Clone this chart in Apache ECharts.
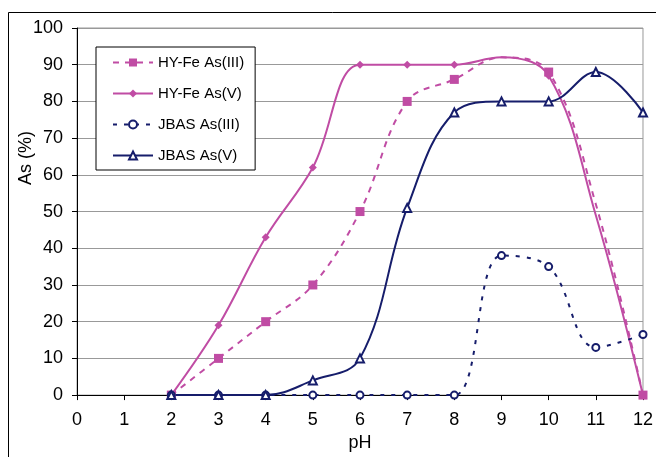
<!DOCTYPE html>
<html>
<head>
<meta charset="utf-8">
<script src="https://cdn.jsdelivr.net/npm/echarts@6/dist/echarts.min.js"></script>
<style>
html,body{margin:0;padding:0;background:#fff;}
#chart{width:656px;height:457px;}
</style>
</head>
<body>
<div id="chart"></div>
<script>
// ---- data ----
const pH = [2, 3, 4, 5, 6, 7, 8, 9, 10, 11, 12];
const hyFeAsIII = [0, 10, 20, 30, 50, 80, 86, 92, 88, 52, 0];
const hyFeAsV   = [0, 19, 43, 62, 90, 90, 90, 92, 87, 49, 0];
const jbasAsIII = [0, 0, 0, 0, 0, 0, 0, 38, 35, 13, 16.5];
const jbasAsV   = [0, 0, 0, 4, 10, 51, 77, 80, 80, 88, 77];
const seriesNames = ['HY-Fe As(III)', 'HY-Fe As(V)', 'JBAS As(III)', 'JBAS As(V)'];
const xTicks = [0,1,2,3,4,5,6,7,8,9,10,11,12];
const yTicks = [0,10,20,30,40,50,60,70,80,90,100];
// points whose markers are not shown in the reference
const hiddenMarkersHY = [9, 11];

const PINK = '#c04ca4';
const NAVY = '#161d6b';
const FONT = '"Liberation Sans", Arial, sans-serif';
const SMOOTH = 0.38;

function build(vals, hidden) {
  return pH.map((x, i) => {
    const d = { value: [x, vals[i]] };
    if (hidden && hidden.indexOf(x) > -1) d.symbol = 'none';
    return d;
  });
}

const chart = echarts.init(document.getElementById('chart'), null, {renderer: 'canvas'});
chart.setOption({
  animation: false,
  backgroundColor: '#fff',
  textStyle: { fontFamily: FONT },
  grid: { left: 77, right: 8, top: 28, bottom: 53, show: true, borderColor: '#999', borderWidth: 1 },
  xAxis: {
    type: 'value', min: xTicks[0], max: xTicks[xTicks.length-1], interval: 1,
    name: 'pH', nameLocation: 'middle', nameGap: 35,
    nameTextStyle: { fontSize: 18, color: '#000', fontFamily: FONT },
    axisLine: { show: true, onZero: false, lineStyle: { color: '#000', width: 1 } },
    axisTick: { show: true, length: 5, lineStyle: { color: '#000' } },
    axisLabel: { fontSize: 18, color: '#000', margin: 16, fontFamily: FONT },
    splitLine: { show: false }
  },
  yAxis: {
    type: 'value', min: yTicks[0], max: yTicks[yTicks.length-1], interval: 10,
    axisLine: { show: true, lineStyle: { color: '#000', width: 1 } },
    axisTick: { show: true, length: 5, lineStyle: { color: '#000' } },
    axisLabel: { fontSize: 18, color: '#000', margin: 14, fontFamily: FONT },
    splitLine: { show: true, lineStyle: { color: '#999', width: 1 } }
  },
  legend: {
    orient: 'vertical', left: 96, top: 47,
    data: seriesNames,
    itemWidth: 40, itemHeight: 10, itemGap: 16,
    padding: [8, 11, 7, 16],
    borderColor: '#000', borderWidth: 1, backgroundColor: '#fff', borderRadius: 0,
    textStyle: { fontSize: 15, color: '#000', fontFamily: FONT }
  },
  graphic: [
    { type: 'rect', silent: true, shape: { x: 8.5, y: 12.5, width: 700, height: 500 },
      style: { fill: 'none', stroke: '#000', lineWidth: 1 }, z: 100 },
    { type: 'text', x: 26, y: 158, rotation: Math.PI / 2,
      style: { text: 'As (%)', font: '18px ' + FONT, fill: '#000', textAlign: 'center', textVerticalAlign: 'middle' } }
  ],
  series: [
    { name: seriesNames[0], type: 'line', data: build(hyFeAsIII, hiddenMarkersHY),
      smooth: SMOOTH, smoothConstraint: false,
      symbol: 'rect', symbolSize: 9,
      lineStyle: { color: PINK, width: 2, type: [6, 6] }, itemStyle: { color: PINK } },
    { name: seriesNames[1], type: 'line', data: build(hyFeAsV, hiddenMarkersHY),
      smooth: SMOOTH, smoothConstraint: false,
      symbol: 'diamond', symbolSize: 8,
      lineStyle: { color: PINK, width: 2 }, itemStyle: { color: PINK } },
    { name: seriesNames[2], type: 'line', data: build(jbasAsIII),
      smooth: SMOOTH, smoothConstraint: false,
      symbol: 'emptyCircle', symbolSize: 7,
      lineStyle: { color: NAVY, width: 2, type: [4, 7] }, itemStyle: { color: NAVY, borderWidth: 2 } },
    { name: seriesNames[3], type: 'line', data: build(jbasAsV),
      smooth: SMOOTH, smoothConstraint: false,
      symbol: 'emptyTriangle', symbolSize: 8,
      lineStyle: { color: NAVY, width: 2 }, itemStyle: { color: NAVY, borderWidth: 1.5 } }
  ]
});
</script>
</body>
</html>
